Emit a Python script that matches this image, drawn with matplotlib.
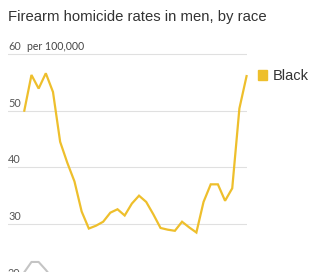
import matplotlib
matplotlib.use('Agg')
import matplotlib.pyplot as plt
from matplotlib.patches import Patch

# DATA
years = list(range(1990, 2022))
black = [50.0, 56.3, 53.9, 56.6, 53.3, 44.5, 40.8, 37.5, 32.2, 29.2,
         29.7, 30.4, 32.0, 32.6, 31.5, 33.6, 35.0, 33.9, 31.7, 29.3,
         29.0, 28.8, 30.4, 29.4, 28.5, 33.9, 37.0, 37.0, 34.1, 36.3,
         50.4, 56.1]
# second series, only its first years are visible in the crop
other_years = [1990, 1991, 1992, 1993, 1994]
other = [21.5, 23.3, 23.3, 21.9, 20.3]
grid_vals = [20, 30, 40, 50, 60]
grid_labels = ['20', '30', '40', '50', '60']

yellow = '#EEBF2C'
grey_line = '#C4C4C4'

fig = plt.figure(figsize=(3.36, 2.72), dpi=100)
W, H = 336, 272
px_unit = 5.667   # pixels per 1 rate unit
px_year = 7.17    # pixels per year

# axes placed so 60 sits at y=54px and 1990 at x=24px; bottom runs off the figure
y_lo, y_hi = 15, 62
x_lo, x_hi = 1990 - 16.3 / px_year, 2021
top_px = 54 - (y_hi - 60) * px_unit
bot_px = 224 + (30 - y_lo) * px_unit
left_px = 8
right_px = 24.3 + (x_hi - 1990) * px_year
ax = fig.add_axes([left_px / W, (H - bot_px) / H,
                   (right_px - left_px) / W, (bot_px - top_px) / H])
ax.set_xlim(x_lo, x_hi)
ax.set_ylim(y_lo, y_hi)
ax.axis('off')

for v, lab in zip(grid_vals, grid_labels):
    ax.axhline(v, color='#E0E0E0', lw=0.8, zorder=0)
    ax.annotate(lab, (x_lo, v), xytext=(0, 3), textcoords='offset points',
                ha='left', va='baseline', fontsize=7.8, color='#555555',
                family='Lato')
ax.annotate('per 100,000', (x_lo, 60), xytext=(13.5, 3), textcoords='offset points',
            ha='left', va='baseline', fontsize=7.6, color='#444444', family='Lato')

ax.plot(other_years, other, color=grey_line, lw=1.5, clip_on=False)
ax.plot(years, black, color=yellow, lw=1.6, clip_on=False, solid_joinstyle='miter')

leg = ax.legend(handles=[Patch(color=yellow, label='Black')],
                loc='center left', bbox_to_anchor=(years[-1] + 1.6, black[-1]),
                bbox_transform=ax.transData, frameon=False, borderpad=0,
                borderaxespad=0, handlelength=0.62, handleheight=0.62,
                handletextpad=0.4, prop={'family': 'Liberation Sans', 'size': 10.5})
for t in leg.get_texts():
    t.set_color('#333333')

fig.text(8 / W, 1 - 21.5 / H, 'Firearm homicide rates in men, by race',
         ha='left', va='baseline', fontsize=10.7, color='#333333',
         family='Liberation Sans')

fig.savefig('out.png', dpi=100)
